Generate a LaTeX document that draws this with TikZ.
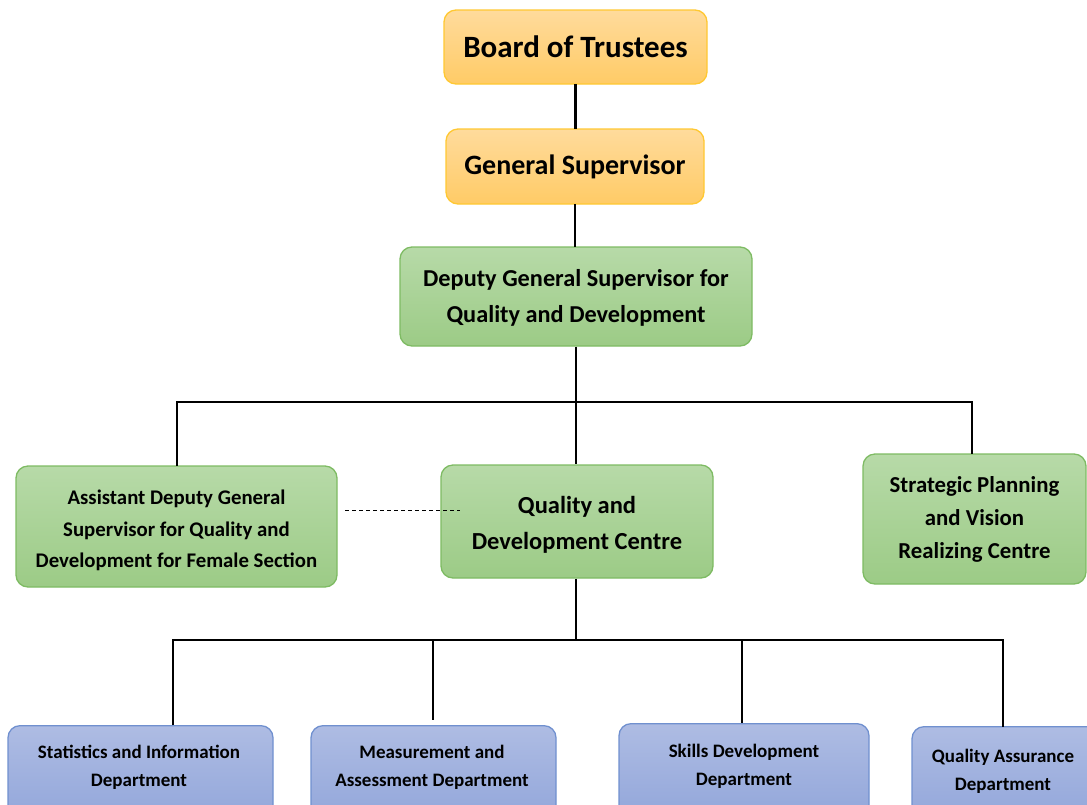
\documentclass[tikz,border=0pt]{standalone}
\usepackage{fontspec}
\setmainfont{Carlito}
\begin{document}
\begin{tikzpicture}[x=1pt,y=-1pt,
  box/.style={rounded corners=12pt, line width=1.3pt, align=center, inner sep=0pt, text=black},
  orangebox/.style={box, draw=orangeline, top color=orangetop, bottom color=orangebot},
  greenbox/.style={box, draw=greenline, top color=greentop, bottom color=greenbot},
  bluebox/.style={box, draw=blueline, top color=bluetop, bottom color=bluebot},
  label/.style={align=center, anchor=north, font=\bfseries\fontsize{19}{28}\selectfont},
  link/.style={line width=2.2pt, black},
  dashlink/.style={line width=1pt, black, dash pattern=on 4pt off 3pt}]
\definecolor{orangeline}{HTML}{FFC832}
\definecolor{orangetop}{HTML}{FFDB9C}
\definecolor{orangebot}{HTML}{FFCB66}
\definecolor{greenline}{HTML}{7EBB63}
\definecolor{greentop}{HTML}{B7DAA8}
\definecolor{greenbot}{HTML}{9CCB86}
\definecolor{blueline}{HTML}{7090CF}
\definecolor{bluetop}{HTML}{AEBCE3}
\definecolor{bluebot}{HTML}{8EA3D9}
\clip (0,0) rectangle (1087,804);
\useasboundingbox (0,0) rectangle (1087,804);

% top of the hierarchy
\node[orangebox, minimum width=263pt, minimum height=74pt,
  font=\bfseries\fontsize{31}{36}\selectfont] (board) at (575.5,47) {Board of Trustees};
\node[orangebox, minimum width=258pt, minimum height=75pt,
  font=\bfseries\fontsize{28}{32}\selectfont] (gs) at (575,166.5) {General Supervisor};
\node[greenbox, minimum width=352pt, minimum height=99pt] (dgs) at (576,296.5) {};
\node[font=\bfseries\fontsize{24.3}{36}\selectfont, align=center] (dgst) at (576,298)
  {Deputy General Supervisor for\\Quality and Development};

% second level
\node[greenbox, minimum width=321pt, minimum height=121pt] (adgs) at (176.5,526.5) {};
\node[font=\bfseries\fontsize{20.8}{31.5}\selectfont, align=center] (adgst) at (176.5,530.5)
  {Assistant Deputy General\\Supervisor for Quality and\\Development for Female Section};
\node[greenbox, minimum width=272pt, minimum height=113pt] (qdc) at (577,521.5) {};
\node[font=\bfseries\fontsize{24.5}{36}\selectfont, align=center] (qdct) at (577,524.5)
  {Quality and\\Development Centre};
\node[greenbox, minimum width=223pt, minimum height=130pt,
  font=\bfseries\fontsize{22.8}{33}\selectfont] (spv) at (974.5,519)
  {Strategic Planning\\and Vision\\Realizing Centre};

% departments (their lower part runs off the page)
\node[bluebox, minimum width=265pt, minimum height=110pt, anchor=north] (stat) at (140.5,725) {};
\node[bluebox, minimum width=245pt, minimum height=110pt, anchor=north] (meas) at (433.5,725) {};
\node[bluebox, minimum width=250pt, minimum height=110pt, anchor=north] (skill) at (744,723) {};
\node[bluebox, minimum width=200pt, minimum height=110pt, anchor=north] (qa) at (1012,726) {};
\node[label] (statt) at (139,742) {Statistics and Information\\Department};
\node[label] (meast) at (432,742) {Measurement and\\Assessment Department};
\node[label] (skillt) at (744,741) {Skills Development\\Department};
\node[label] (qat) at (1003,746) {Quality Assurance\\Department};

% connectors
\coordinate (h1) at (576,402);
\coordinate (h2) at (576,640);
\draw[link] (575.5,84) -- (575.5,129);
\draw[link] (575,204) -- (575,247);
\draw[link] (dgs.south) -- (h1);
\draw[link] (h1) -- (qdc.north -| h1);
\draw[link] (h1) -| (177,466);
\draw[link] (h1) -| (972,454);
\draw[link] (qdc.south -| h2) -- (h2);
\draw[link] (h2) -| (173,725);
\draw[link] (h2) -| (1003,727);
\draw[link] (433,640) -- (433,720);
\draw[link] (742,640) -- (742,723);
\draw[dashlink] (345,510) -- (460,510);
\end{tikzpicture}
\end{document}
